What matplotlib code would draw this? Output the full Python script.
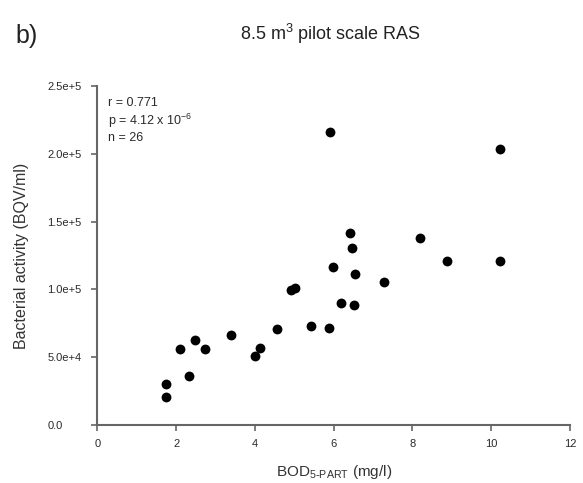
import matplotlib
matplotlib.use("Agg")
import matplotlib.pyplot as plt

plt.rcParams['font.family'] = ['Liberation Sans', 'DejaVu Sans']

bod = [1.74, 1.74, 2.10, 2.33, 2.47, 2.73, 3.40, 4.00, 4.13, 4.55, 4.92, 5.02, 5.42,
       5.87, 5.91, 5.99, 6.19, 6.42, 6.47, 6.53, 6.52, 7.29, 8.19, 8.88, 10.22, 10.22]
activity = [20500, 30300, 56100, 36400, 62800, 56100, 66500, 51000, 57100, 70900,
            99200, 101000, 72900, 71600, 216200, 116500, 90100, 141600, 130700,
            111700, 88400, 105600, 138100, 121100, 203800, 120900]

x_ticks = [0, 2, 4, 6, 8, 10, 12]
y_ticks = [0, 50000, 100000, 150000, 200000, 250000]
y_tick_labels = ["0.0", "5.0e+4", "1.0e+5", "1.5e+5", "2.0e+5", "2.5e+5"]

fig = plt.figure(figsize=(5.83, 4.83), dpi=100)
ax = fig.add_axes([0.1669, 0.120, 0.8108, 0.702])

ax.scatter(bod, activity, s=50, color='black', zorder=3, linewidths=0)

ax.set_xlim(0, 12)
ax.set_ylim(0, 250000)
ax.set_xticks(x_ticks)
ax.set_xticklabels([str(t) for t in x_ticks])
ax.set_yticks(y_ticks)
ax.set_yticklabels(y_tick_labels)

for s in ['top', 'right']:
    ax.spines[s].set_visible(False)
for s in ['left', 'bottom']:
    ax.spines[s].set_color('#666666')
    ax.spines[s].set_linewidth(1.5)
ax.tick_params(direction='out', length=4, width=1.2, color='#666666',
               labelsize=8, labelcolor='#2a2a2a')
ax.tick_params(axis='x', pad=6)
ax.tick_params(axis='y', pad=32)
for lab in ax.get_yticklabels():
    lab.set_horizontalalignment('left')

ax.set_xlabel(r'BOD$_{\mathregular{5\text{-}PART}}$ (mg/l)', fontsize=11, color='#333333')
ax.xaxis.set_label_coords(0.5, -0.112)
ax.set_ylabel('Bacterial activity (BQV/ml)', fontsize=11.5, color='#333333')
ax.yaxis.set_label_coords(-0.145, 0.5)

ax.text(0.023, 0.967, 'r = 0.771\np = 4.12 x 10$^{\\mathregular{-6}}$\nn = 26',
        transform=ax.transAxes, fontsize=9, color='#2a2a2a', va='top', ha='left',
        linespacing=1.2)

fig.text(0.566, 0.93, r'8.5 m$^{\mathregular{3}}$ pilot scale RAS', fontsize=13,
         color='#222222', ha='center', va='center')
fig.text(0.026, 0.925, 'b)', fontsize=18, color='#222222', ha='left', va='center')

fig.savefig('out.png', dpi=100)
